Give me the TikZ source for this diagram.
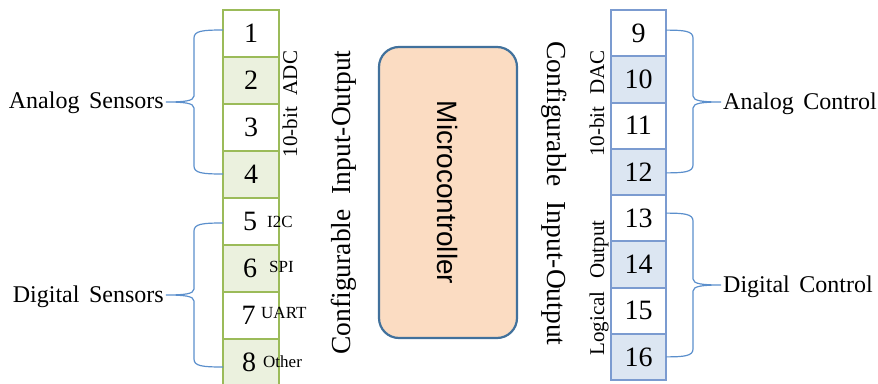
\documentclass[tikz,border=0pt]{standalone}
\usepackage{fontspec}
\setmainfont{Liberation Serif}
\setsansfont{Liberation Sans}
\usetikzlibrary{calc}
\definecolor{gborder}{HTML}{9BBB59}
\definecolor{gfill}{HTML}{EBF1DE}
\definecolor{bborder}{HTML}{7B9BD0}
\definecolor{bfill}{HTML}{DCE6F2}
\definecolor{mcfill}{HTML}{FBDCC2}
\definecolor{mcborder}{HTML}{41719C}
\definecolor{brccol}{HTML}{5B8FCC}
\newcommand\fs[1]{\fontsize{#1}{#1}\selectfont}
% brace: #1 top end, #2 bottom end, #3 spine x (pt), #4 tip, #5 direction (1 left brace, -1 right brace)
\newcommand\brcpath[5]{%
  \draw[brc] let \p1=(#1), \p2=(#2), \p3=(#4) in
   (\p1) .. controls ({#3pt+8pt*#5}, \y1) and (#3pt, \y1-1pt) .. (#3pt, \y1-8pt)
   -- (#3pt, \y3+6pt) .. controls (#3pt, \y3+1pt) and ({#3pt-10pt*#5}, \y3) .. (\p3)
   .. controls ({#3pt-10pt*#5}, \y3) and (#3pt, \y3-1pt) .. (#3pt, \y3-6pt)
   -- (#3pt, \y2+8pt) .. controls (#3pt, \y2+1pt) and ({#3pt+8pt*#5}, \y2) .. (\p2);}
\tikzset{
  lcell/.style={draw=gborder, line width=2pt, minimum width=56pt, minimum height=47pt,
    inner sep=0pt, outer sep=0pt, font=\fs{28}},
  rcell/.style={draw=bborder, line width=2pt, minimum width=55pt, minimum height=46.25pt,
    inner sep=0pt, outer sep=0pt, font=\fs{28}},
  small/.style={inner sep=0pt, anchor=base west, font=\fs{17}},
  grp/.style={inner sep=0pt, font=\fs{24}},
  side/.style={inner sep=0pt, font=\fs{21}},
  cio/.style={inner sep=0pt, font=\fs{27.5}},
  brc/.style={draw=brccol, line width=1.2pt},
}
\begin{document}
\begin{tikzpicture}[x=1pt, y=-1pt]
\useasboundingbox (0,0) rectangle (878,383);
% left column
\node[lcell, fill=white] (L1) at (251,33.5) {1};
\node[lcell, fill=gfill] (L2) at (251,80.5) {2};
\node[lcell, fill=white] (L3) at (251,127.5) {3};
\node[lcell, fill=gfill] (L4) at (251,174.5) {4};
\node[lcell, fill=white] (L5) at (251,221.5) {\hspace*{-2pt}5};
\node[lcell, fill=gfill] (L6) at (251,268.5) {\hspace*{-2pt}6};
\node[lcell, fill=white] (L7) at (251,315.5) {\hspace*{-5pt}7};
\node[lcell, fill=gfill] (L8) at (251,362.5) {\hspace*{-4pt}8};
% right column
\node[rcell, fill=white] (R9)  at (638.5,33.125) {9};
\node[rcell, fill=bfill] (R10) at (638.5,79.375) {10};
\node[rcell, fill=white] (R11) at (638.5,125.625) {11};
\node[rcell, fill=bfill] (R12) at (638.5,171.875) {12};
\node[rcell, fill=white] (R13) at (638.5,218.125) {13};
\node[rcell, fill=bfill] (R14) at (638.5,264.375) {14};
\node[rcell, fill=white] (R15) at (638.5,310.625) {15};
\node[rcell, fill=bfill] (R16) at (638.5,356.875) {16};
% protocol labels
\node[small] (i2c) at (267,227) {I2C};
\node[small] (spi) at (269,272) {SPI};
\node[small] (uart) at (261,318) {UART};
\node[small] (oth) at (263,367) {Other};
% side labels
\node[side, rotate=90] (adc) at (290,104) {10-bit\hspace{0.3em} ADC};
\node[side, rotate=90] (dac) at (597,103.5) {10-bit\hspace{0.3em} DAC};
\node[side, rotate=90] (logo) at (599,288) {Logical\hspace{0.35em} Output};
\node[cio, rotate=90] (cioL) at (343.5,202.5) {Configurable\hspace{0.3em} Input-Output};
\node[cio, rotate=-90] (cioR) at (554.5,193.5) {Configurable\hspace{0.3em} Input-Output};
% microcontroller
\node[draw=mcborder, fill=mcfill, line width=2.2pt, rounded corners=20pt,
  minimum width=138pt, minimum height=291pt, inner sep=0pt] (mc) at (448,192.5) {};
\node[rotate=-90, inner sep=0pt, font=\sffamily\fs{28}] (mctext) at (mc.center) {Microcontroller};
% group labels
\node[grp, anchor=base east] (aS) at (164,108.5) {Analog\hspace{0.15em} Sensors};
\node[grp, anchor=base east] (dS) at (164,302) {Digital\hspace{0.15em} Sensors};
\node[grp, anchor=base west] (aC) at (723,109.5) {Analog\hspace{0.15em} Control};
\node[grp, anchor=base west] (dC) at (723,292) {Digital\hspace{0.15em} Control};
\coordinate (aStip) at (166,102);
\coordinate (dStip) at (166,295);
\coordinate (aCtip) at (721,102);
\coordinate (dCtip) at (721,285);
% braces
\brcpath{[yshift=3.5pt]L1.west}{[yshift=0.5pt]L4.west}{194}{aStip}{1}
\brcpath{[yshift=-1.5pt]L5.west}{[yshift=-4.5pt]L8.west}{194}{dStip}{1}
\brcpath{[yshift=3pt]R9.east}{[yshift=-1pt]R12.east}{693}{aCtip}{-1}
\brcpath{[yshift=5pt]R13.east}{[yshift=0pt]R16.east}{693}{dCtip}{-1}
\end{tikzpicture}
\end{document}
